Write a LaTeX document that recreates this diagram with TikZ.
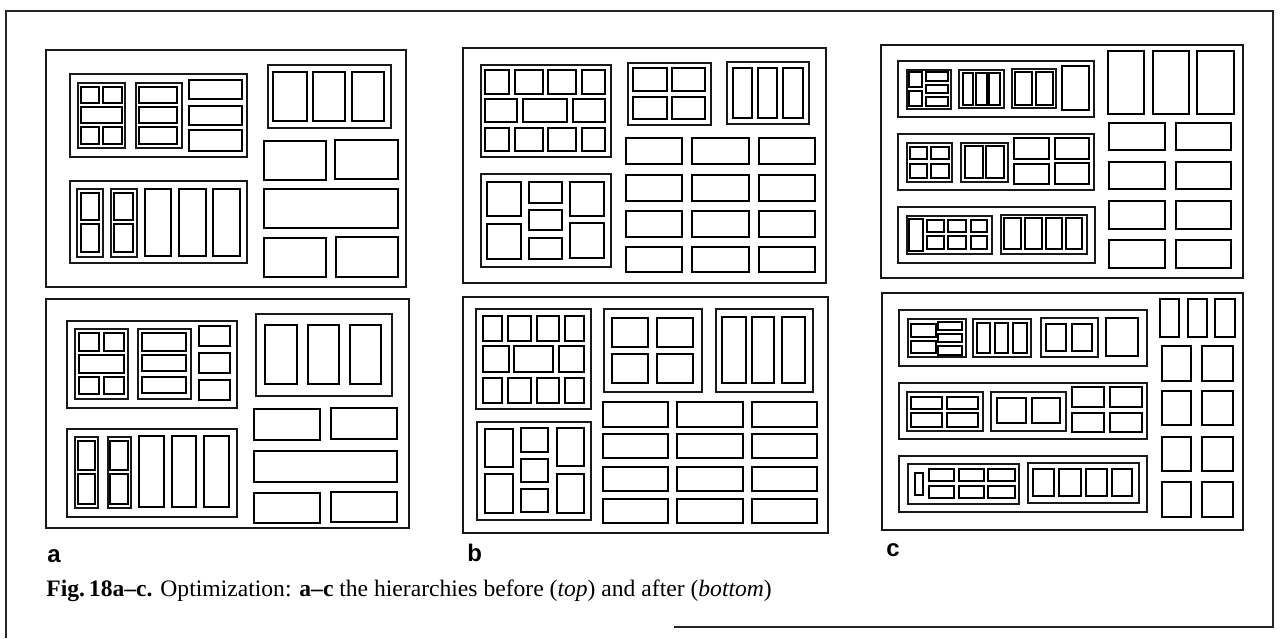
\documentclass[tikz,border=0pt]{standalone}
\usepackage{fontspec}
\setmainfont{Liberation Serif}
\newfontfamily\labelfont{Liberation Sans}
\begin{document}
\begin{tikzpicture}[
    x=0.5pt, y=-0.5pt,
    frame/.style={draw=black!85, line width=0.6pt},
    panel/.style={draw=black!90, line width=0.8pt},
    group/.style={draw=black!90, line width=1pt},
    leaf/.style={draw=black, line width=1.1pt},
    tag/.style={font=\labelfont\bfseries\fontsize{12}{14}\selectfont, inner sep=0pt},
    caption/.style={font=\fontsize{11.8}{14}\selectfont, inner sep=0pt}
]
\useasboundingbox (0,0) rectangle (1283,638);

% Page frame
\draw[frame] (6,638) -- (6,11) -- (1273,11) -- (1273,627) -- (674,627);

% Panel a, before
\draw[panel] (46,50) rectangle (406,287);
\draw[group] (70,74) rectangle (247,157) (268,65) rectangle (391,128) (70,181) rectangle (247,263);
\draw[group] (78,83) rectangle (125,148) (136,83) rectangle (182,148) (77,189) rectangle (103,257) (111,189) rectangle (137,257);
\draw[leaf] (81,87) rectangle (99,103) (103,87) rectangle (122,103) (81,107) rectangle (122,123)
    (81,127) rectangle (99,144) (103,127) rectangle (122,144)
    (139,87) rectangle (177,103) (139,107) rectangle (177,123) (139,127) rectangle (177,144)
    (189,80) rectangle (242,99) (189,106) rectangle (242,125) (189,130) rectangle (242,151);
\draw[leaf] (273,72) rectangle (307,121) (313,72) rectangle (345,121) (352,72) rectangle (384,121)
    (264,141) rectangle (326,180) (335,140) rectangle (398,179) (264,189) rectangle (398,228)
    (264,238) rectangle (326,277) (336,237) rectangle (398,277);
\draw[leaf] (81,193) rectangle (99,220) (81,224) rectangle (99,252) (114,193) rectangle (133,220) (114,224) rectangle (133,252)
    (145,189) rectangle (171,256) (179,189) rectangle (206,256) (213,189) rectangle (240,256);

% Panel a, after
\draw[panel] (46,299) rectangle (409,528);
\draw[group] (67,321) rectangle (237,408) (256,314) rectangle (392,396) (67,429) rectangle (237,517);
\draw[group] (75,329) rectangle (128,399) (138,329) rectangle (191,399) (75,437) rectangle (98,508) (108,437) rectangle (131,508);
\draw[leaf] (79,333) rectangle (99,351) (104,333) rectangle (124,351) (79,355) rectangle (124,373)
    (79,377) rectangle (99,394) (104,377) rectangle (124,394)
    (142,333) rectangle (186,351) (142,355) rectangle (186,371) (142,377) rectangle (186,393)
    (199,326) rectangle (230,346) (199,353) rectangle (230,373) (199,380) rectangle (230,400);
\draw[leaf] (265,325) rectangle (297,384) (308,325) rectangle (339,384) (350,325) rectangle (381,384)
    (254,409) rectangle (320,440) (331,408) rectangle (397,439) (254,451) rectangle (397,482)
    (254,493) rectangle (320,523) (331,492) rectangle (397,522);
\draw[leaf] (78,441) rectangle (95,470) (78,474) rectangle (95,504) (110,441) rectangle (128,470) (110,474) rectangle (128,504)
    (139,436) rectangle (164,507) (172,436) rectangle (196,507) (204,436) rectangle (229,507);

% Panel b, before
\draw[panel] (463,48) rectangle (826,283);
\draw[group] (481,65) rectangle (611,157) (628,63) rectangle (711,125) (727,62) rectangle (809,124) (481,174) rectangle (611,267);
\draw[leaf] (485,70) rectangle (509,94) (515,70) rectangle (543,94) (548,70) rectangle (576,94) (582,70) rectangle (605,94)
    (485,99) rectangle (517,122) (523,99) rectangle (567,122) (573,99) rectangle (605,122)
    (485,128) rectangle (509,151) (515,128) rectangle (543,151) (548,128) rectangle (576,151) (582,128) rectangle (605,151);
\draw[leaf] (633,68) rectangle (667,91) (672,68) rectangle (705,91) (633,97) rectangle (667,119) (672,97) rectangle (705,119)
    (733,68) rectangle (752,118) (758,68) rectangle (777,118) (783,68) rectangle (803,118);
\draw[leaf] (487,182) rectangle (521,216) (487,224) rectangle (521,259)
    (529,182) rectangle (562,203) (529,210) rectangle (562,230) (529,238) rectangle (562,259)
    (570,182) rectangle (604,216) (570,223) rectangle (604,258);
\foreach \xa/\xb in {626/682, 692/749, 759/815}
  \foreach \ya/\yb in {138/164, 175/201, 211/237, 247/272}
    \draw[leaf] (\xa,\ya) rectangle (\xb,\yb);

% Panel b, after
\draw[panel] (463,297) rectangle (828,533);
\draw[group] (476,309) rectangle (591,409) (604,309) rectangle (702,392) (716,309) rectangle (813,392) (477,422) rectangle (591,520);
\draw[leaf] (483,316) rectangle (502,341) (508,316) rectangle (531,341) (537,316) rectangle (559,341) (565,316) rectangle (584,341)
    (483,346) rectangle (509,372) (514,346) rectangle (553,372) (559,346) rectangle (584,372)
    (483,378) rectangle (502,403) (508,378) rectangle (531,403) (537,378) rectangle (559,403) (565,378) rectangle (584,403);
\draw[leaf] (612,318) rectangle (648,347) (657,318) rectangle (693,347) (612,354) rectangle (648,383) (657,354) rectangle (693,383)
    (722,317) rectangle (746,383) (752,317) rectangle (774,383) (782,317) rectangle (805,383);
\draw[leaf] (485,429) rectangle (513,467) (485,474) rectangle (513,513)
    (521,428) rectangle (548,452) (521,459) rectangle (548,482) (521,489) rectangle (548,512)
    (557,428) rectangle (584,466) (557,474) rectangle (584,513);
\foreach \xa/\xb in {603/668, 677/743, 752/817}
  \foreach \ya/\yb in {402/427, 434/458, 467/491, 499/523}
    \draw[leaf] (\xa,\ya) rectangle (\xb,\yb);

% Panel c, before
\draw[panel] (881,45) rectangle (1243,278);
\draw[group] (898,61) rectangle (1094,117) (898,134) rectangle (1094,190) (898,207) rectangle (1095,263);
\draw[group] (907,70) rectangle (951,109) (959,70) rectangle (1004,108) (1012,69) rectangle (1056,108)
    (907,143) rectangle (952,182) (961,143) rectangle (1008,182)
    (907,216) rectangle (992,254) (1001,215) rectangle (1087,254);
\draw[leaf] (909,72) rectangle (922,87) (909,91) rectangle (922,106)
    (926,72) rectangle (948,81) (926,85) rectangle (948,93) (926,97) rectangle (948,106)
    (963,73) rectangle (973,105) (976,73) rectangle (987,105) (989,73) rectangle (1000,105)
    (1015,72) rectangle (1032,105) (1036,72) rectangle (1053,105) (1062,66) rectangle (1089,110);
\draw[leaf] (910,147) rectangle (927,159) (931,147) rectangle (949,159) (910,164) rectangle (927,178) (931,164) rectangle (949,178)
    (965,146) rectangle (983,178) (986,146) rectangle (1004,178)
    (1014,138) rectangle (1049,159) (1055,138) rectangle (1089,159) (1014,164) rectangle (1049,184) (1055,163) rectangle (1089,184);
\draw[leaf] (909,219) rectangle (923,251)
    (927,220) rectangle (944,232) (948,220) rectangle (966,232) (971,220) rectangle (987,232)
    (927,236) rectangle (944,249) (948,236) rectangle (966,249) (971,236) rectangle (987,249)
    (1004,218) rectangle (1021,249) (1025,218) rectangle (1042,249) (1046,218) rectangle (1062,249) (1066,218) rectangle (1082,249);
\draw[leaf] (1108,51) rectangle (1144,114) (1153,51) rectangle (1189,114) (1197,51) rectangle (1234,114);
\foreach \xa/\xb in {1109/1165, 1176/1231}
  \foreach \ya/\yb in {123/150, 162/189, 201/229, 240/268}
    \draw[leaf] (\xa,\ya) rectangle (\xb,\yb);

% Panel c, after
\draw[panel] (882,293) rectangle (1243,530);
\draw[group] (899,310) rectangle (1147,366) (899,383) rectangle (1147,439) (899,456) rectangle (1147,512);
\draw[group] (908,319) rectangle (966,357) (973,319) rectangle (1031,357) (1041,318) rectangle (1098,357)
    (907,392) rectangle (983,431) (991,392) rectangle (1066,431)
    (908,464) rectangle (1019,504) (1028,463) rectangle (1139,503);
\draw[leaf] (911,324) rectangle (936,337) (911,341) rectangle (936,353)
    (938,322) rectangle (962,330) (938,334) rectangle (962,342) (938,346) rectangle (962,355)
    (977,323) rectangle (990,353) (995,323) rectangle (1008,353) (1013,323) rectangle (1027,353)
    (1046,324) rectangle (1066,351) (1072,324) rectangle (1092,351) (1106,318) rectangle (1138,356);
\draw[leaf] (911,397) rectangle (942,409) (947,397) rectangle (978,409) (911,413) rectangle (942,427) (947,413) rectangle (978,427)
    (997,398) rectangle (1026,423) (1032,398) rectangle (1060,423)
    (1072,387) rectangle (1104,407) (1110,387) rectangle (1142,407) (1072,413) rectangle (1104,432) (1110,413) rectangle (1142,432);
\draw[leaf] (915,473) rectangle (923,495)
    (929,469) rectangle (954,481) (959,469) rectangle (984,481) (988,469) rectangle (1015,481)
    (929,486) rectangle (954,498) (959,486) rectangle (984,498) (988,486) rectangle (1015,498)
    (1033,469) rectangle (1054,496) (1059,469) rectangle (1081,496) (1086,469) rectangle (1107,496) (1112,469) rectangle (1132,496);
\draw[leaf] (1160,299) rectangle (1179,337) (1188,299) rectangle (1207,337) (1215,299) rectangle (1235,337);
\foreach \xa/\xb in {1162/1191, 1202/1233}
  \foreach \ya/\yb in {346/381, 391/425, 437/471, 482/517}
    \draw[leaf] (\xa,\ya) rectangle (\xb,\yb);

% Panel letters and caption
\node[tag, anchor=west] (taga) at (47,556) {a};
\node[tag, anchor=west] (tagb) at (467,553) {b};
\node[tag, anchor=west] (tagc) at (886,550) {c};
\node[caption, anchor=west] (cap) at (46,591)
    {\textbf{Fig.\,18a--c.} Optimization: \textbf{a--c} the hierarchies before (\textit{top}) and after (\textit{bottom})};

\end{tikzpicture}
\end{document}
